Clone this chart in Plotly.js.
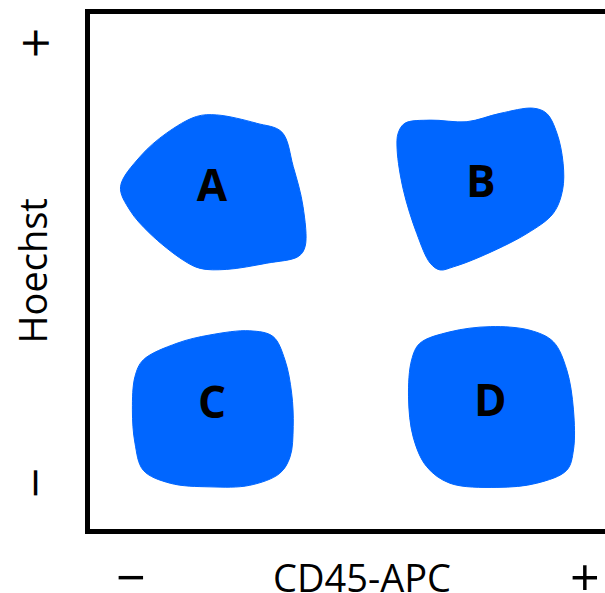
<!DOCTYPE html>
<html>
<head>
<meta charset="utf-8">
<script src="https://cdn.plot.ly/plotly-3.0.1.min.js"></script>
<style>
  html, body { margin: 0; padding: 0; background: #fff; }
  #chart { width: 605px; height: 593px; }
</style>
</head>
<body>
<div id="chart"></div>
<script>
// gate outlines (x: CD45-APC, y: Hoechst, 0-100 scale)
const gateAx = [6.3, 10.1, 15.2, 21.0, 24.9, 32.6, 37.5, 39.7, 41.6, 42.0, 40.7, 34.6, 26.8, 21.7, 18.4, 12.0, 8.1];
const gateAy = [66.4, 72.2, 76.7, 79.9, 80.2, 78.6, 76.9, 70.3, 62.6, 54.9, 53.0, 51.7, 50.5, 50.7, 52.3, 57.4, 61.9];

const gateBx = [61.3, 66.2, 73.3, 79.7, 86.1, 88.7, 90.7, 91.9, 91.8, 90.0, 84.9, 75.8, 70.7, 68.1, 66.2, 63.6, 61.0, 59.8, 60.0];
const gateBy = [78.6, 79.2, 78.9, 80.5, 81.5, 80.5, 76.7, 70.9, 65.8, 61.3, 57.4, 52.9, 51.0, 50.4, 51.7, 57.4, 65.8, 73.5, 76.7];

const gateCx = [10.7, 17.2, 23.6, 31.3, 35.8, 38.1, 39.4, 39.7, 39.1, 37.1, 31.3, 23.6, 15.9, 10.7, 9.1, 8.6, 9.1];
const gateCy = [33.1, 36.3, 37.9, 38.7, 37.6, 33.1, 26.7, 20.3, 14.5, 11.3, 9.0, 8.7, 9.4, 11.9, 17.1, 23.5, 29.9];

const gateDx = [64.2, 70.0, 77.8, 85.5, 90.0, 92.6, 93.9, 93.9, 92.6, 86.8, 79.1, 70.0, 65.5, 62.9, 62.0, 62.6];
const gateDy = [36.3, 38.5, 39.5, 38.8, 36.6, 31.2, 23.5, 15.8, 11.9, 9.4, 8.6, 9.4, 12.6, 18.3, 26.0, 33.1];

const gateNames = ['A', 'B', 'C', 'D'];
const labelX = [24.0, 76.0, 24.0, 77.8];
const labelY = [65.8, 66.5, 24.0, 24.4];

const xTickVals = [8.3, 96.1];
const xTickText = ['−', '+'];
const yTickVals = [9.4, 94.0];
const yTickText = ['−', '+'];

const gateColor = '#0066ff';
const closeLoop = arr => arr.concat([arr[0]]);

function gate(xs, ys) {
    return {
        x: closeLoop(xs),
        y: closeLoop(ys),
        mode: 'lines',
        type: 'scatter',
        fill: 'toself',
        fillcolor: gateColor,
        line: { color: gateColor, width: 1, shape: 'spline', smoothing: 1 },
        hoverinfo: 'skip'
    };
}

const data = [
    gate(gateAx, gateAy),
    gate(gateBx, gateBy),
    gate(gateCx, gateCy),
    gate(gateDx, gateDy),
    {
        x: labelX,
        y: labelY,
        text: gateNames,
        mode: 'text',
        type: 'scatter',
        textfont: { family: 'Open Sans', size: 44, color: '#000', weight: 'bold' },
        hoverinfo: 'skip'
    }
];

const axisFont = { family: 'Open Sans', size: 52, color: '#000' };
const titleFont = { family: 'Open Sans', size: 38, color: '#000' };

// y tick marks are written sideways, so they go in as rotated annotations
const yTickLabels = yTickVals.map((v, i) => ({
    text: yTickText[i], xref: 'paper', yref: 'y', x: 0, y: v,
    xshift: -53, xanchor: 'center', yanchor: 'middle', textangle: 90,
    showarrow: false, font: { family: 'DejaVu Sans', size: 40, color: '#000' }
}));

const layout = {
    width: 605,
    height: 593,
    margin: { l: 90, r: 0, t: 14, b: 64 },
    paper_bgcolor: '#fff',
    plot_bgcolor: '#fff',
    showlegend: false,
    xaxis: {
        range: [0.4, 100],
        showgrid: false,
        zeroline: false,
        showline: true,
        mirror: true,
        linecolor: '#000',
        linewidth: 5,
        ticks: '',
        tickvals: xTickVals,
        ticktext: xTickText,
        tickfont: axisFont,
        ticklabelstandoff: 0,
        fixedrange: true
    },
    yaxis: {
        range: [0.6, 99.6],
        showgrid: false,
        zeroline: false,
        showline: true,
        linecolor: '#000',
        linewidth: 5,
        ticks: '',
        showticklabels: false,
        fixedrange: true
    },
    annotations: [
        {
            text: 'Hoechst', xref: 'paper', yref: 'paper', x: 0, y: 0.5,
            xshift: -59, xanchor: 'center', yanchor: 'middle', textangle: -90,
            showarrow: false, font: titleFont
        },
        {
            text: 'CD45-APC', xref: 'paper', yref: 'paper', x: 0.528, y: 0,
            yshift: -48, xanchor: 'center', yanchor: 'middle',
            showarrow: false, font: titleFont
        }
    ].concat(yTickLabels)
};

Plotly.newPlot('chart', data, layout, { displayModeBar: false, staticPlot: true });
</script>
</body>
</html>
